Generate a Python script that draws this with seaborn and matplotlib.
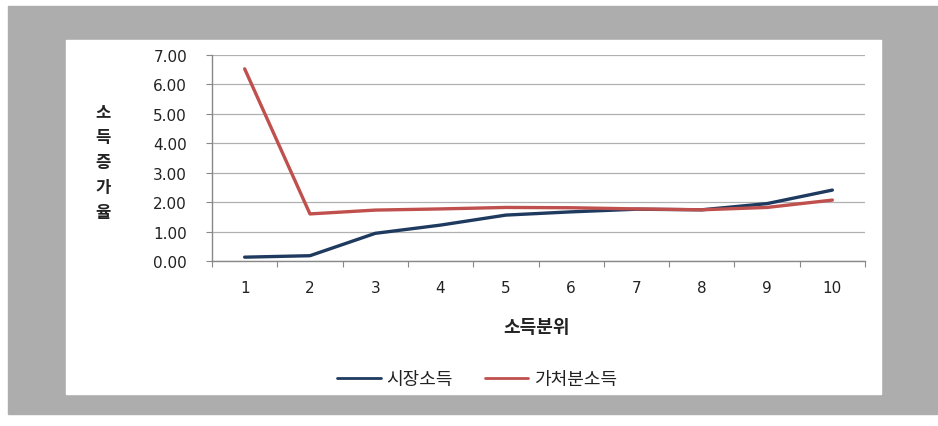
import numpy as np
import matplotlib.pyplot as plt
import pandas as pd
import seaborn as sns
from matplotlib.patches import Rectangle
from matplotlib.lines import Line2D

# Data
deciles = [1, 2, 3, 4, 5, 6, 7, 8, 9, 10]
market_income = [0.13, 0.18, 0.94, 1.22, 1.56, 1.67, 1.76, 1.74, 1.95, 2.41]
disposable_income = [6.53, 1.60, 1.73, 1.77, 1.82, 1.81, 1.77, 1.74, 1.82, 2.07]
series_names = ['시장소득', '가처분소득']
y_ticks = [0, 1, 2, 3, 4, 5, 6, 7]

df = pd.DataFrame({
    '소득분위': deciles * 2,
    '소득증가율': market_income + disposable_income,
    '구분': [series_names[0]] * len(deciles) + [series_names[1]] * len(deciles),
})

sns.set_style('white')
plt.rcParams['font.family'] = ['Noto Sans CJK KR', 'DejaVu Sans']

fig = plt.figure(figsize=(9.38, 4.27), dpi=100)
W, H = 938, 427
# gray frame and white chart area
fig.patches.append(Rectangle((8 / W, 1 - 415 / H), 929 / W, 408 / H,
                             transform=fig.transFigure, color='#adadad', zorder=-10))
fig.patches.append(Rectangle((66 / W, 1 - 395 / H), 815 / W, 354 / H,
                             transform=fig.transFigure, color='white', zorder=-9))

ax = fig.add_axes([212 / W, 1 - 262 / H, 653 / W, 206 / H])
ax.set_facecolor('none')
ax.set_zorder(5)

palette = {series_names[0]: '#1f3a5f', series_names[1]: '#c0504d'}
sns.lineplot(data=df, x='소득분위', y='소득증가율', hue='구분', palette=palette,
             linewidth=2.4, ax=ax, legend=False)

ax.set_xlim(0.5, 10.5)
ax.set_ylim(0, 7)
ax.set_yticks(y_ticks)
ax.set_yticklabels([f'{v:.2f}' for v in y_ticks], fontsize=11, family='DejaVu Sans', color='#222222')
ax.yaxis.grid(True, color='#b0b0b0', linewidth=0.9)
ax.set_axisbelow(True)

# category ticks between labels, labels centered
ax.set_xticks(np.arange(0.5, 11, 1))
ax.set_xticklabels([])
ax.set_xticks(deciles, minor=True)
ax.set_xticklabels([str(d) for d in deciles], minor=True, fontsize=11,
                   family='DejaVu Sans', color='#222222')
ax.tick_params(axis='x', which='minor', length=0, pad=14)
ax.tick_params(axis='x', which='major', length=4, color='#888888', direction='out', bottom=True)
ax.tick_params(axis='y', length=4, color='#888888', direction='out', left=True, pad=14)

for s in ['top', 'right']:
    ax.spines[s].set_visible(False)
for s in ['left', 'bottom']:
    ax.spines[s].set_color('#888888')
    ax.spines[s].set_linewidth(1)

ax.set_xlabel('')
ax.set_ylabel('')
fig.text(103 / W, 1 - 163 / H, '소\n득\n증\n가\n율', ha='center', va='center',
         fontsize=12, fontweight='bold', linespacing=1.5, color='#222222')
fig.text(537 / W, 1 - 328 / H, '소득분위', ha='center', va='center',
         fontsize=13, fontweight='bold', color='#222222')

handles = [Line2D([], [], color=palette[n], linewidth=2) for n in series_names]
fig.legend(handles, series_names, loc='center', bbox_to_anchor=(477 / W, 1 - 380 / H),
           ncol=2, frameon=False, fontsize=13, handlelength=2.4, handletextpad=0.3,
           columnspacing=1.8, labelcolor='#222222')

fig.savefig('out.png', dpi=100)
